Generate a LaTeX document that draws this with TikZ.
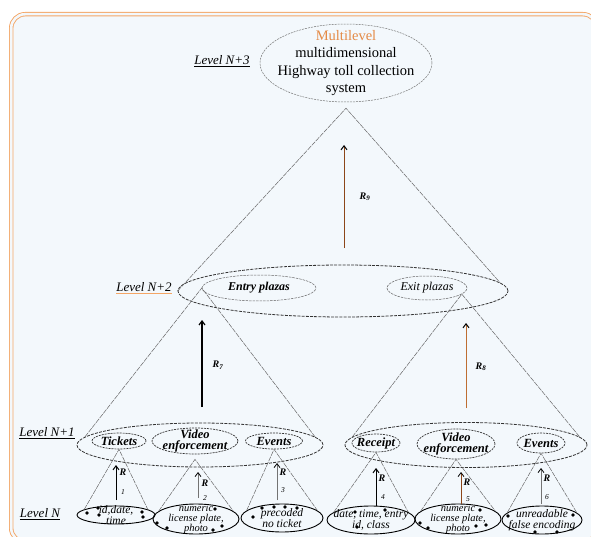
\documentclass[tikz,border=0pt]{standalone}
\usepackage{fontspec}
\setmainfont{Liberation Serif}
\usetikzlibrary{arrows.meta,shapes.geometric}

\definecolor{paneblue}{RGB}{243,248,252}
\definecolor{frameorange}{RGB}{244,166,102}
\definecolor{titleorange}{RGB}{228,138,70}
\definecolor{relbrown}{RGB}{140,70,25}
\definecolor{relorange}{RGB}{190,110,50}

\def\TopFont{\fontsize{14.5}{17.5}\selectfont}
\def\LvlFont{\fontsize{13}{15}\selectfont\itshape}
\def\PlazaFont{\fontsize{12}{14}\selectfont\itshape}
\def\ItemFont{\fontsize{12.5}{11.5}\selectfont\lineskiplimit=-100pt\bfseries\itshape}
\def\DataFont{\fontsize{11.5}{10.6}\selectfont\lineskiplimit=-100pt\itshape}
\def\TightFont{\fontsize{10.5}{9.9}\selectfont\lineskiplimit=-100pt\itshape}
\def\RelFont{\fontsize{10}{11}\selectfont\bfseries\itshape}
\def\IdxFont{\fontsize{7.5}{8}\selectfont\itshape}
\def\DotR{1.8}

\begin{document}
\begin{tikzpicture}[x=1pt,y=-1pt,
  oval/.style={ellipse, inner sep=-20pt, align=center},
  grp/.style={oval, draw=black!80, line width=0.8pt, dash pattern=on 3pt off 1.2pt},
  item/.style={oval, draw=black!80, line width=0.7pt, dash pattern=on 2pt off 1pt, font=\ItemFont},
  plaza/.style={oval, draw=black!60, line width=0.5pt, dash pattern=on 2.5pt off 1pt, font=\PlazaFont},
  data/.style={oval, draw=black, line width=0.9pt, font=\DataFont},
  side/.style={draw=black!60, line width=0.5pt, dash pattern=on 5pt off 1pt},
  rel/.style={-{Straight Barb[length=4pt,width=6pt,color=black]}, line width=0.8pt},
  lvl/.style={font=\LvlFont}]
\useasboundingbox (0,0) rectangle (591,537);
\clip (0,0) rectangle (591,537);

\filldraw[fill=paneblue, draw=frameorange, double=paneblue, double distance=2.6pt, line width=0.9pt, rounded corners=14pt] (11.2,14.2) rectangle (597,542);

% level N+3
\node[lvl] (lvN3) at (222,61) {\underline{Level N+3}};
\node[oval, draw=black!55, line width=0.5pt, dash pattern=on 2pt off 1pt, minimum width=172pt, minimum height=78pt, font=\TopFont] (hwy) at (346,63) {\textcolor{titleorange}{Multilevel}\\multidimensional\\Highway toll collection\\system};

% level N+2
\node[lvl] (lvN2) at (144,288) {{\color{frameorange}\underline{\color{black}Level N+2}}};
\node[grp, minimum width=330pt, minimum height=52pt] (plazas) at (343,291) {};
\node[plaza, minimum width=114pt, minimum height=26pt, font=\PlazaFont\bfseries] (entry) at (259,288) {Entry plazas};
\node[plaza, minimum width=80pt, minimum height=24pt] (exit) at (427,288) {Exit plazas};

% level N+1
\node[lvl] (lvN1) at (47,433) {\underline{Level N+1}};
\node[grp, minimum width=246pt, minimum height=44pt] (lgrp) at (200,445) {};
\node[grp, minimum width=242pt, minimum height=45pt] (rgrp) at (466,445) {};
\node[item, minimum width=54pt, minimum height=16pt] (tickets) at (119,441) {Tickets};
\node[item, minimum width=86pt, minimum height=26pt] (lvideo) at (195,441) {Video\\enforcement};
\node[item, minimum width=57pt, minimum height=16pt] (levents) at (274,441) {Events};
\node[item, minimum width=48pt, minimum height=18pt] (receipt) at (376,443) {Receipt};
\node[item, minimum width=78pt, minimum height=30pt] (rvideo) at (456,444) {Video\\enforcement};
\node[item, minimum width=48pt, minimum height=20pt] (revents) at (541,443) {Events};

% level N
\node[lvl] (lvN0) at (40,514) {\underline{Level N}};
\node[data, minimum width=78pt, minimum height=18pt] (d1) at (116,515) {id,date,\\time};
\node[data, minimum width=86pt, minimum height=30pt, font=\TightFont] (d2) at (196,519) {numeric\\license plate,\\photo};
\node[data, minimum width=82pt, minimum height=28pt] (d3) at (282,518) {precoded\\no ticket};
\node[data, minimum width=88pt, minimum height=28pt] (d4) at (371,520) {date, time, entry\\id, class};
\node[data, minimum width=86pt, minimum height=30pt, font=\TightFont] (d5) at (458,519) {numeric\\license plate,\\photo};
\node[data, minimum width=80pt, minimum height=28pt] (d6) at (542,520) {unreadable\\false encoding};

\foreach \p in {(87,513),(98,508),(99,515),(142,512),(143,517),
                (157,523),(167,528),(215,509),(213,530),(222,526),
                (253,517),(262,508),(274,507),(285,507),(297,508),
                (355,512),(385,510),(357,527),
                (480,510),(420,523),(428,528),(476,526),(486,525),
                (508,516),(573,515),(535,532),(557,532)}
  \fill \p circle (\DotR);

% cones
\draw[side] (plazas.west) -- ([yshift=-6pt]hwy.south) -- (plazas.3);
\draw[side] (lgrp.176) -- (entry.west) -- (lgrp.4);
\draw[side] (rgrp.176) -- (exit.-10) -- (rgrp.4);
\draw[side] (d1.170) -- (tickets.south) -- (d1.10);
\draw[side] (d2.168) -- ([yshift=-5pt]lvideo.south) -- (d2.12);
\draw[side] (d3.168) -- (levents.south) -- (d3.12);
\draw[side] (d4.168) -- (receipt.south) -- (d4.12);
\draw[side] (d5.168) -- (rvideo.south) -- (d5.12);
\draw[side] (d6.168) -- (revents.south) -- (d6.12);

% relations
\coordinate (r9s) at (344,248); \coordinate (r9e) at (344,145);
\coordinate (r7s) at (202,407); \coordinate (r7e) at (202,320);
\coordinate (r8s) at (466,408); \coordinate (r8e) at (466,323);
\draw[rel, relbrown, line width=1pt] (r9s) -- (r9e);
\draw[rel, line width=1.2pt] (r7s) -- (r7e);
\draw[rel, relorange, line width=1pt] (r8s) -- (r8e);
\node[font=\RelFont] (r9l) at (365,197) {R\textsubscript{9}};
\node[font=\RelFont] (r7l) at (218,365) {R\textsubscript{7}};
\node[font=\RelFont] (r8l) at (481,367) {R\textsubscript{8}};

\coordinate (r1s) at (116,500); \coordinate (r1e) at (116,465);
\coordinate (r2s) at (198,498); \coordinate (r2e) at (198,472);
\coordinate (r3s) at (277,500); \coordinate (r3e) at (277,463);
\coordinate (r4s) at (376,506); \coordinate (r4e) at (376,468);
\coordinate (r5s) at (461,504); \coordinate (r5e) at (461,472);
\coordinate (r6s) at (541,504); \coordinate (r6e) at (541,468);
\draw[rel, line width=1pt] (r1s) -- (r1e);
\draw[rel, black!55] (r2s) -- (r2e);
\draw[rel, black!55] (r3s) -- (r3e);
\draw[rel, line width=1pt] (r4s) -- (r4e);
\draw[rel, relbrown] (r5s) -- (r5e);
\draw[rel, black!55] (r6s) -- (r6e);

\node[font=\RelFont] (r1l) at (123,472) {R};
\node[font=\IdxFont] (r1i) at (123,492) {1};
\node[font=\RelFont] (r2l) at (205,483) {R};
\node[font=\IdxFont] (r2i) at (205,498) {2};
\node[font=\RelFont] (r3l) at (283,472) {R};
\node[font=\IdxFont] (r3i) at (283,490) {3};
\node[font=\RelFont] (r4l) at (382,478) {R};
\node[font=\IdxFont] (r4i) at (383,497) {4};
\node[font=\RelFont] (r5l) at (467,482) {R};
\node[font=\IdxFont] (r5i) at (468,499) {5};
\node[font=\RelFont] (r6l) at (547,478) {R};
\node[font=\IdxFont] (r6i) at (547,497) {6};
\end{tikzpicture}
\end{document}
